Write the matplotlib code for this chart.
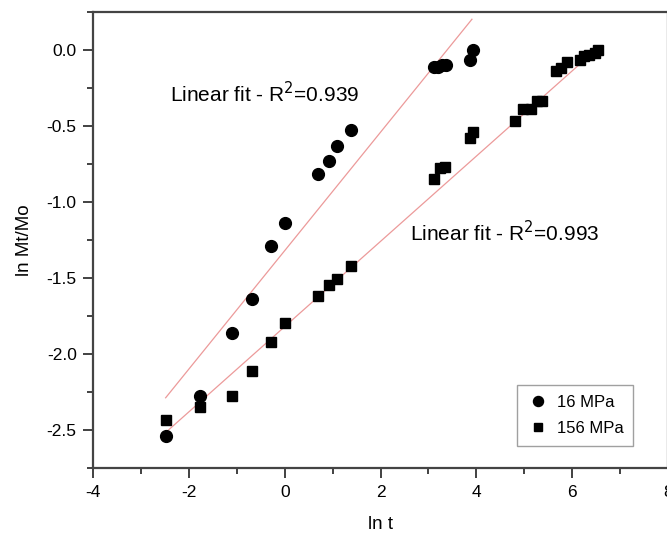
import matplotlib.pyplot as plt
import numpy as np
from matplotlib.ticker import MultipleLocator

plt.rcParams['font.family'] = ['Liberation Sans', 'DejaVu Sans']
plt.rcParams['axes.unicode_minus'] = False

# ln t / ln(Mt/Mo)
ln_t_16 = [-2.49, -1.78, -1.10, -0.69, -0.29, 0.01, 0.69, 0.92, 1.09, 1.39,
           3.11, 3.20, 3.28, 3.36, 3.88, 3.94]
ln_m_16 = [-2.54, -2.28, -1.86, -1.64, -1.29, -1.14, -0.82, -0.73, -0.63, -0.53,
           -0.11, -0.11, -0.10, -0.10, -0.07, 0.00]

ln_t_156 = [-2.49, -1.78, -1.10, -0.69, -0.29, 0.0, 0.69, 0.92, 1.09, 1.39,
            3.12, 3.25, 3.34, 3.86, 3.93, 4.80, 4.98, 5.14, 5.27, 5.38,
            5.66, 5.78, 5.90, 6.17, 6.25, 6.36, 6.48, 6.54]
ln_m_156 = [-2.435, -2.35, -2.28, -2.11, -1.92, -1.80, -1.62, -1.55, -1.51, -1.42,
            -0.85, -0.78, -0.77, -0.58, -0.54, -0.47, -0.39, -0.39, -0.34, -0.34,
            -0.14, -0.12, -0.08, -0.07, -0.04, -0.035, -0.02, 0.0]

# linear fits as drawn (slope, intercept, x start, x end)
fit_16 = (0.389, -1.32, -2.49, 3.91)
fit_156 = (0.280, -1.82, -2.49, 6.58)

fig = plt.figure(figsize=(6.67, 5.36), dpi=100)
ax = fig.add_axes([0.140, 0.127, 0.861, 0.851])

for slope, icpt, x0, x1 in (fit_16, fit_156):
    xs = np.array([x0, x1])
    ax.plot(xs, slope * xs + icpt, color='#ec9a9a', lw=0.9, zorder=1)

ax.plot(ln_t_16, ln_m_16, 'o', color='black', ms=8.5, label='16 MPa', zorder=3)
ax.plot(ln_t_156, ln_m_156, 's', color='black', ms=7.5, label='156 MPa', zorder=3)

ax.text(-2.39, -0.347, 'Linear fit - R$^2$=0.939', fontsize=15, va='baseline')
ax.text(2.62, -1.259, 'Linear fit - R$^2$=0.993', fontsize=15, va='baseline')

ax.set_xlim(-4, 8)
ax.set_ylim(-2.75, 0.25)
ax.xaxis.set_major_locator(MultipleLocator(2))
ax.xaxis.set_minor_locator(MultipleLocator(1))
ax.yaxis.set_major_locator(MultipleLocator(0.5))
ax.yaxis.set_minor_locator(MultipleLocator(0.25))
ax.tick_params(which='major', direction='out', length=7, width=1.3, labelsize=12.5,
               color='#333333', pad=5)
ax.tick_params(which='minor', direction='out', length=4.5, width=1.3, color='#333333')
ax.tick_params(top=False, right=False)
ax.yaxis.set_major_formatter(plt.FuncFormatter(lambda v, p: f'{v:.1f}'))

for s in ax.spines.values():
    s.set_color('#444444')
    s.set_linewidth(1.6)

ax.set_xlabel('ln t', fontsize=13.5, labelpad=12)
ax.set_ylabel('ln Mt/Mo', fontsize=13.5, labelpad=10)

leg = ax.legend(loc='lower right', bbox_to_anchor=(0.955, 0.03), fontsize=12,
                frameon=True, fancybox=False, handletextpad=0.5, borderpad=0.6,
                labelspacing=0.65, handlelength=1.3, markerscale=0.85)
leg.get_frame().set_edgecolor('#888888')
leg.get_frame().set_linewidth(1.0)

fig.savefig('out.png', dpi=100)
